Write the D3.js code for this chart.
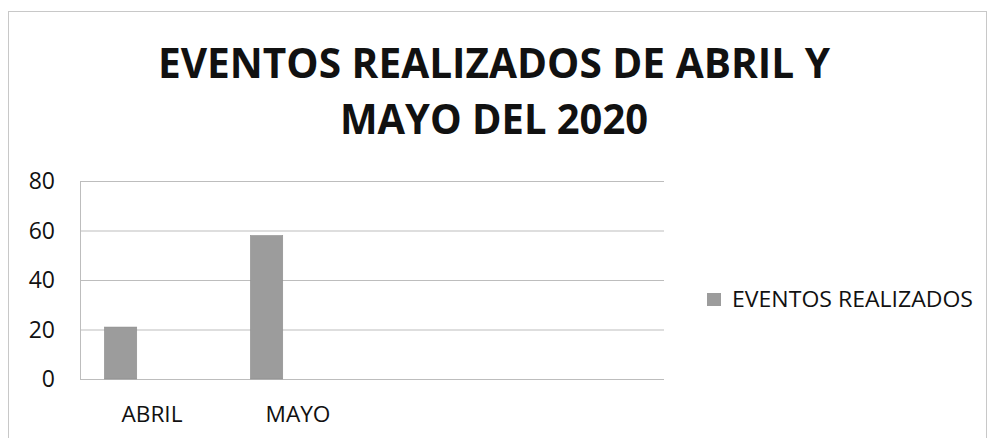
<!DOCTYPE html>
<html>
<head>
<meta charset="utf-8">
<script src="https://cdn.jsdelivr.net/npm/d3@7"></script>
<style>
body { margin: 0; background: #fff; }
text { font-family: "Open Sans", sans-serif; fill: #111; }
</style>
</head>
<body>
<script>
var categories = ["ABRIL", "MAYO", "", ""];
var series = ["EVENTOS REALIZADOS", "", ""];
var values = [21, 58, null, null];
var yTicks = [0, 20, 40, 60, 80];
var titleLines = ["EVENTOS REALIZADOS DE ABRIL Y", "MAYO DEL 2020"];

function main(){
	var w = 993;
	var h = 438;

	var svg = d3.select("body")
				.append("svg")
				.attr("width", w)
				.attr("height", h);

	// chart frame
	svg.append("rect")
		.attr("x", 8.5)
		.attr("y", 11.5)
		.attr("width", 978)
		.attr("height", 440)
		.attr("fill", "none")
		.attr("stroke", "#c8c8c8");

	// title
	svg.selectAll(".title")
		.data(titleLines)
		.enter()
		.append("text")
		.attr("class", "title")
		.text(function(d){ return d; })
		.attr("x", 494)
		.attr("y", function(d, i){ return 78 + i * 56; })
		.attr("text-anchor", "middle")
		.attr("textLength", function(d, i){ return i == 0 ? 672 : 308; })
		.attr("lengthAdjust", "spacingAndGlyphs")
		.style("font-size", "41px")
		.style("font-weight", "bold");

	var left = 80, right = 664, top = 181, bottom = 379;

	var x = d3.scaleBand()
				.domain(d3.range(categories.length))
				.range([left, right]);

	var xs = d3.scaleBand()
				.domain(d3.range(series.length))
				.range([0, x.bandwidth()])
				.paddingOuter(0.75);

	var y = d3.scaleLinear()
				.domain([0, 80])
				.range([bottom, top]);

	// gridlines
	svg.append("g")
		.attr("transform", "translate(" + left + ",0)")
		.call(d3.axisLeft(y).tickValues(yTicks).tickSize(-(right - left)).tickFormat(""))
		.call(function(g){
			g.select(".domain").attr("stroke", "#bdbdbd");
			g.selectAll(".tick line").attr("stroke", "#bdbdbd");
		});

	// y labels
	svg.selectAll(".ylab")
		.data(yTicks)
		.enter()
		.append("text")
		.attr("class", "ylab")
		.text(function(d){ return d; })
		.attr("x", 55)
		.attr("y", function(d){ return y(d); })
		.attr("dy", "0.36em")
		.attr("text-anchor", "end")
		.style("font-size", "23px");

	// bars
	svg.selectAll(".bar")
		.data(values.map(function(v, i){ return {i: i, v: v}; }).filter(function(d){ return d.v != null; }))
		.enter()
		.append("rect")
		.attr("class", "bar")
		.attr("x", function(d){ return x(d.i) + xs(0); })
		.attr("y", function(d){ return y(d.v); })
		.attr("width", xs.bandwidth())
		.attr("height", function(d){ return bottom - y(d.v); })
		.attr("fill", "#9c9c9c")
		.attr("stroke", "#8a8a8a")
		.attr("stroke-width", 0.5);

	// x labels
	var labelLen = {"ABRIL": 61, "MAYO": 65};
	svg.selectAll(".xlab")
		.data(categories)
		.enter()
		.append("text")
		.attr("class", "xlab")
		.text(function(d){ return d; })
		.attr("x", function(d, i){ return x(i) + x.bandwidth() / 2 - 1; })
		.attr("y", 422)
		.attr("text-anchor", "middle")
		.attr("textLength", function(d){ return labelLen[d] || null; })
		.attr("lengthAdjust", "spacingAndGlyphs")
		.style("font-size", "21px");

	// legend
	svg.append("rect")
		.attr("x", 707)
		.attr("y", 293)
		.attr("width", 14)
		.attr("height", 13)
		.attr("fill", "#9c9c9c");

	svg.append("text")
		.text(series[0])
		.attr("x", 732)
		.attr("y", 307)
		.attr("textLength", 241)
		.attr("lengthAdjust", "spacingAndGlyphs")
		.style("font-size", "21px");
}

main();
</script>
</body>
</html>
